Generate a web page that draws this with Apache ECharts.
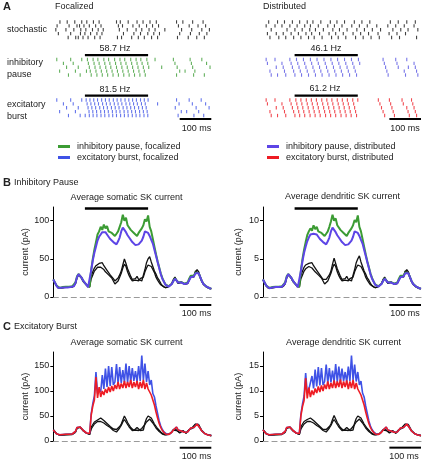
<!DOCTYPE html>
<html><head><meta charset="utf-8">
<script src="https://cdn.jsdelivr.net/npm/echarts@6/dist/echarts.min.js"></script>
<style>html,body{margin:0;padding:0;background:#fff}#c{width:422px;height:460px}</style>
</head><body><div id="c"></div><script>
// ---------- time base (ms) ----------
const timeMs = [0,5,10,15,20,25,30,35,40,45,50,55,60,65,70,75,80,85,90,95,100,105,110,115,120,125,130,135,140,145,150,155,160,165,170,175,180,185,190,195,200,205,210,215,220,225,230,235,240,245,250,255,260,265,270,275,280,285,290,295,300,305,310,315,320,325,330,335,340,345,350,355,360,365,370,375,380,385,390,395,400,405,410,415,420,425,430,435,440,445,450,455,460,465,470,475,480,485,490,495,500];
const stimWindow = [100, 300];
const scaleBarMs = [400, 500];
const rateLabels = ['58.7 Hz', '81.5 Hz', '46.1 Hz', '61.2 Hz'];

// ---------- B: inhibitory pause, somatic (pA) ----------
const greenBS = [23,19,15,12.5,12,12.5,13,13,13.5,13,
 13.5,13.5,14,14.5,19,27,30,28,25,21,
 19,16,13.5,13.5,36,50,62,72,82,86,
 92,88,95,90,93,86,88,84,85,80,
 83,86,92,98,108,100,104,94,96,88,
 90,84,86,80,84,86,90,94,102,99,
 107,92,86,76,66,56,47,39,31,25,
 20.5,16.5,15,14,14.5,17.5,21,24.5,24,19.5,
 17.5,19.5,21,17.5,16.5,19,24,28,30,28,
 32,34,31,26,21,17.5,15,13.5,12.5,11.5,
 11];
const purpleBS = [23,19,15,12,11.5,12,12.5,12.5,13,12.5,
 13,13,13.5,14,18,26,30,28,25,21,
 18.5,16,13,13,35,48,58,66,74,79,
 82,85,84,85,82,79,76,74,72,70,
 69,73,78,86,91,90,85,81,78,76,
 72,70,68,67,69,71,74,79,86,88,
 84,80,75,70,62,54,46,38,30,24,
 20,16,14.5,13.5,14,17,21,24,24,19,
 17,19,20,17,16,18,22,26,28,27,
 31,33,31,26,21,17,15,13.5,12.5,11.5,
 11];
const black1S = [23,19,15,12,11.5,12,12.5,12.5,13,12.5,
 13,13,13.5,14,18,26,30,28,25,21,
 18.5,16,13,13,28,33,38,41,42,44,
 46,45,41,39,35,32,29,27,24,21,
 23,25,29,34,42,50,44,37,32,27,
 23,21,24,27,23,21,21,22,36,45,
 50,53,46,40,34,30,25,22,18,15,
 13,12,13,14,15,17,22,25,21,18,
 17,20,21,17,16,18,23,27,25,26,
 33,36,33,27,21,17,15,13,12,11.5,
 11];
const black2S = [22,18,14.5,12,11.5,12,12,12.5,12.5,12.5,
 13,13,13,14,17,25,29,27,24,20,
 18,15.5,13,13,24,29,34,36,39,40,
 39,38,36,33,31,29,27,25,21,17,
 18,21,26,31,38,43,40,33,28,24,
 21,22,22,23,21,24,25,26,33,38,
 42,44,40,36,32,26,22,19,16,14,
 13,12.5,12.5,13.5,15,18,23,26,22,18,
 16,19,20,17,15.5,17.5,22,26,27,28,
 34,35,31,25,20,16.5,14.5,13,12,11,
 10.5];

// ---------- B: inhibitory pause, dendritic (pA) ----------
const greenBD = [2.3,1.9,1.5,1.3,1.2,1.25,1.3,1.3,1.35,1.3,
 1.35,1.35,1.4,1.45,1.9,2.7,3.0,2.8,2.5,2.1,
 1.9,1.6,1.35,1.35,3.5,5.0,6.2,7.2,8.1,8.6,
 9.0,8.7,9.4,8.9,9.2,8.6,8.8,8.4,8.5,8.0,
 8.3,8.6,9.2,9.9,10.8,10.0,10.3,9.4,9.6,8.8,
 9.0,8.4,8.6,8.0,8.4,8.6,9.0,9.4,10.1,9.8,
 10.7,9.2,8.6,7.6,6.6,5.6,4.7,3.9,3.1,2.5,
 2.05,1.65,1.5,1.4,1.45,1.75,2.1,2.45,2.4,1.95,
 1.75,1.95,2.1,1.75,1.65,1.9,2.4,2.8,3.0,2.8,
 3.2,3.4,3.1,2.6,2.1,1.75,1.5,1.35,1.25,1.15,
 1.1];
const purpleBD = [2.3,1.9,1.5,1.25,1.15,1.2,1.25,1.25,1.3,1.25,
 1.3,1.3,1.35,1.4,1.8,2.6,3.0,2.8,2.5,2.1,
 1.85,1.6,1.3,1.3,3.4,4.7,5.8,6.6,7.3,7.8,
 8.2,8.4,8.3,8.5,8.2,7.9,7.6,7.4,7.2,7.0,
 6.9,7.3,7.8,8.6,9.1,9.0,8.5,8.1,7.8,7.6,
 7.2,7.0,6.8,6.7,6.9,7.1,7.4,7.9,8.6,8.8,
 8.4,8.0,7.5,7.0,6.2,5.4,4.6,3.8,3.0,2.4,
 2.0,1.6,1.45,1.35,1.4,1.7,2.1,2.4,2.4,1.9,
 1.7,1.9,2.0,1.7,1.6,1.8,2.2,2.6,2.8,2.7,
 3.1,3.3,3.1,2.6,2.1,1.7,1.5,1.35,1.25,1.15,
 1.1];
const black1D = [2.3,1.9,1.5,1.2,1.15,1.2,1.25,1.25,1.3,1.25,
 1.3,1.3,1.35,1.4,1.8,2.6,3.0,2.8,2.5,2.1,
 1.85,1.6,1.3,1.3,2.8,3.4,3.9,4.2,4.3,4.4,
 4.6,4.5,4.1,3.9,3.5,3.2,2.9,2.6,2.3,2.1,
 2.3,2.5,2.9,3.4,4.3,5.1,4.4,3.7,3.2,2.7,
 2.3,2.1,2.4,2.7,2.3,2.1,2.1,2.2,3.6,4.5,
 5.0,5.4,4.6,4.0,3.4,3.0,2.5,2.2,1.8,1.5,
 1.3,1.2,1.3,1.4,1.5,1.7,2.2,2.5,2.1,1.8,
 1.7,2.0,2.1,1.7,1.6,1.8,2.3,2.7,2.5,2.6,
 3.3,3.6,3.3,2.7,2.1,1.7,1.5,1.3,1.2,1.15,
 1.1];
const black2D = [2.2,1.8,1.45,1.2,1.15,1.2,1.2,1.25,1.25,1.25,
 1.3,1.3,1.3,1.4,1.7,2.5,2.9,2.7,2.4,2.0,
 1.8,1.55,1.3,1.3,2.4,2.9,3.4,3.7,3.9,4.0,
 3.9,3.8,3.6,3.3,3.1,2.9,2.7,2.5,2.1,1.7,
 1.8,2.1,2.6,3.1,3.8,4.3,4.0,3.3,2.8,2.4,
 2.1,2.2,2.2,2.3,2.1,2.4,2.5,2.6,3.3,3.8,
 4.2,4.4,4.0,3.6,3.2,2.6,2.2,1.9,1.6,1.4,
 1.3,1.25,1.25,1.35,1.5,1.8,2.3,2.6,2.2,1.8,
 1.6,1.9,2.0,1.7,1.55,1.75,2.2,2.6,2.7,2.8,
 3.4,3.5,3.1,2.5,2.0,1.65,1.45,1.3,1.2,1.1,
 1.05];

// ---------- C: excitatory burst, somatic (pA) ----------
const blueCS = [22,18,14.5,13,12.5,13,13,13,13.5,13,
 13.5,13.5,14,15,19,27,30,28,25,21,
 19,16,14,15,55,75,90,138,95,104,
 98,132,104,145,108,150,110,148,112,118,
 154,115,148,116,142,118,155,117,150,118,
 146,120,140,118,150,120,171,122,155,118,
 140,112,122,95,88,70,55,40,30,23,
 18,14.5,13,13,14.5,18,22,25,28,22,
 18,20,21,17.5,16,18,22,26,27,27,
 31,34,31,25,20,16.5,14.5,13,12,11.5,
 11];
const redCS = [22,18,14.5,13,12.5,13,13,13,13.5,13,
 13.5,13.5,14,15,19,27,30,28,25,21,
 19,16,14,15,52,70,82,128,86,108,
 88,100,92,104,96,108,98,110,100,112,
 104,118,104,115,106,120,106,118,108,122,
 106,118,108,120,104,118,106,122,104,116,
 104,100,92,82,72,58,46,35,27,21,
 17,14,13,13,14,17.5,22,25,28,22,
 18,20,21,17.5,16,18,22,26,27,27,
 31,34,31,25,20,16.5,14.5,13,12,11.5,
 11];
// ---------- C: excitatory burst, dendritic (pA) ----------
const blueCD = [2.2,1.8,1.45,1.3,1.25,1.3,1.3,1.3,1.35,1.3,
 1.35,1.35,1.4,1.5,1.9,2.7,3.0,2.8,2.5,2.1,
 1.9,1.6,1.4,1.5,5.4,7.4,9.0,13.6,9.6,10.3,
 9.9,13.0,10.5,14.3,10.9,14.8,11.1,14.6,11.2,11.9,
 15.3,11.6,14.6,11.7,14.1,11.8,15.4,11.8,14.9,11.9,
 14.5,12.0,13.8,11.8,14.9,12.0,17.1,12.2,15.3,11.9,
 13.8,11.2,12.0,9.6,8.8,7.0,5.5,4.0,3.0,2.3,
 1.8,1.45,1.3,1.3,1.45,1.8,2.2,2.5,2.8,2.2,
 1.8,2.0,2.1,1.75,1.6,1.8,2.2,2.6,2.7,2.7,
 3.1,3.4,3.1,2.5,2.0,1.65,1.45,1.3,1.2,1.15,
 1.1];
const redCD = [2.2,1.8,1.45,1.3,1.25,1.3,1.3,1.3,1.35,1.3,
 1.35,1.35,1.4,1.5,1.9,2.7,3.0,2.8,2.5,2.1,
 1.9,1.6,1.4,1.5,5.1,6.9,8.1,12.6,8.5,10.7,
 8.8,10.1,9.2,10.5,9.6,10.9,9.8,11.1,10.0,11.3,
 10.4,11.9,10.4,11.6,10.6,12.1,10.6,11.9,10.8,12.3,
 10.6,11.9,10.8,12.1,10.4,11.9,10.6,12.2,10.4,11.6,
 10.4,10.0,9.2,8.2,7.2,5.8,4.6,3.5,2.7,2.1,
 1.7,1.4,1.3,1.3,1.4,1.75,2.2,2.5,2.8,2.2,
 1.8,2.0,2.1,1.75,1.6,1.8,2.2,2.6,2.7,2.7,
 3.1,3.4,3.1,2.5,2.0,1.65,1.45,1.3,1.2,1.15,
 1.1];

// ---------- A: spike rasters (spike times in ms, one list per trial) ----------
const stochFocal = [
 [21,44,68,90,106,127,145,200,212,237,265,284,306,326,390,410,441,474],
 [12,50,75,83,97,114,134,151,206,219,252,272,295,314,333,396,430,458,482],
 [8,40,65,87,103,124,142,158,209,234,262,280,303,322,353,406,438,470,494],
 [16,55,86,100,118,138,154,222,255,276,299,318,336,400,434,462,486],
 [47,71,79,94,110,131,148,203,216,248,269,288,311,330,393,427,454,478]];
const pauseFocal = [
 [11,55,90,108,126,141,160,175,194,211,226,245,262,277,296,322,380,433,470],
 [32,63,111,129,145,163,179,197,214,230,248,265,281,299,385,437,485],
 [42,79,114,132,148,166,182,200,217,234,251,268,285,302,343,392,441,496],
 [20,70,105,117,135,152,169,186,203,220,237,254,271,288,400,417,448],
 [48,85,120,138,155,172,189,206,223,240,257,274,291,390,444,478]];
const burstFocal = [
 [11,55,90,104,116,128,140,153,165,177,190,202,214,227,239,251,263,276,288,300,390,430,468],
 [32,63,107,119,131,143,156,168,180,193,205,217,230,242,254,266,279,291,330,398,440,482],
 [42,79,110,122,134,147,159,171,184,196,208,221,233,245,257,270,282,294,386,452,493],
 [20,70,113,125,137,150,162,174,187,199,211,224,236,248,260,273,285,297,405,422,460],
 [48,85,101,114,126,138,151,163,176,188,200,213,225,237,250,262,274,287,299,395,445,476]];
const stochDistr = [
 [18,46,68,93,116,140,158,183,213,234,258,289,313,338,403,428,455,482],
 [10,38,60,85,108,132,150,175,205,226,250,281,305,330,360,395,420,447,478],
 [26,76,101,124,148,166,191,221,242,266,297,321,346,372,411,436,459,490],
 [14,42,64,89,112,136,154,179,209,230,254,285,309,334,364,399,424,451],
 [22,50,72,97,120,144,162,187,217,238,262,293,317,342,368,407,432,486]];
const pauseDistr = [
 [10,38,85,106,128,150,171,193,215,236,258,280,302,380,420,455],
 [14,60,89,110,132,154,175,197,219,240,262,284,306,384,424,478],
 [42,64,93,114,136,158,179,201,223,244,266,288,388,428,460,482],
 [22,68,97,118,140,162,183,205,227,248,270,292,392,447,486],
 [26,46,72,101,122,144,166,187,209,231,252,274,296,396,451,490]];
const burstDistr = [
 [10,38,85,104,120,137,153,169,186,202,218,235,251,267,284,300,365,400,440,470],
 [14,60,89,107,123,140,156,172,189,205,221,238,254,270,287,370,404,444,474],
 [42,64,93,110,126,143,159,175,192,208,224,241,257,273,290,375,408,455,478],
 [22,68,97,113,129,146,162,178,195,211,227,244,260,276,293,380,412,459,482],
 [26,46,72,101,116,132,149,165,181,198,214,230,247,263,279,296,385,416,463,486]];

// ---------- styling ----------
const FONT = '"Liberation Sans", Arial, Helvetica, sans-serif';
const C_GREEN = '#3c9c34', C_PURPLE = '#5d45e6', C_BLUE = '#3f52e6', C_RED = '#ee1c24', C_BLACK = '#111';
const N_IPF = 'inhibitory pause, focalized', N_EBF = 'excitatory burst, focalized';
const N_IPD = 'inhibitory pause, distributed', N_EBD = 'excitatory burst, distributed';

const pair = v => timeMs.map((t, i) => [t, v[i]]);
function rasterData(rows){ const d=[]; rows.forEach((row,r)=>row.forEach(t=>d.push([t, rows.length-1-r+0.5]))); return d; }

const grids = [], xAxes = [], yAxes = [], series = [];
const LX = 53.3, RX = 263, W = 158;
const rasterTops = [20, 57.5, 98];
[[LX,[stochFocal,pauseFocal,burstFocal],['#111',C_GREEN,C_BLUE]],[RX,[stochDistr,pauseDistr,burstDistr],['#111','#5552e2',C_RED]]].forEach(([lx, sets, cols]) => {
  sets.forEach((rows, k) => {
    const gi = grids.length;
    grids.push({left: lx, top: rasterTops[k], width: W, height: 19.5});
    xAxes.push({gridIndex: gi, type:'value', min:0, max:500, show:false});
    yAxes.push({gridIndex: gi, type:'value', min:0, max:5, show:false});
    series.push({type:'scatter', xAxisIndex:gi, yAxisIndex:gi, data: rasterData(rows), symbol:'rect', symbolSize:[1.1,3.4], itemStyle:{color: cols[k]}, silent:true, animation:false});
    if (k > 0) series.push({type:'line', xAxisIndex:gi, yAxisIndex:gi, clip:false, symbol:'none', silent:true, animation:false,
      data:[[stimWindow[0],5.6],[stimWindow[1],5.6]], lineStyle:{color:'#000', width:2.4}});
    if (k === 2) series.push({type:'line', xAxisIndex:gi, yAxisIndex:gi, clip:false, symbol:'none', silent:true, animation:false,
      data:[[scaleBarMs[0],-0.4],[scaleBarMs[1],-0.4]], lineStyle:{color:'#000', width:2}});
  });
});

function tracePlot(lx, top, h, max, interval, ticks, lines, stimY, scaleY){
  const gi = grids.length;
  grids.push({left: lx, top: top, width: W, height: h});
  xAxes.push({gridIndex:gi, type:'value', min:0, max:500, splitLine:{show:false}, axisTick:{show:false}, axisLabel:{show:false},
    axisLine:{show:true, onZero:true, lineStyle:{color:'#9a9a9a', type:[5,4], width:1.2}}});
  yAxes.push({gridIndex:gi, type:'value', min:0, max:max, interval:interval, splitLine:{show:false},
    axisLine:{show:true, lineStyle:{color:'#000', width:1}},
    axisTick:{show:true, length:3, lineStyle:{color:'#000'}, customValues: ticks},
    axisLabel:{fontSize:9, color:'#222', margin:4, fontFamily:FONT, customValues: ticks},
    name:'current (pA)', nameLocation:'middle', nameGap:20, nameTextStyle:{fontSize:9, color:'#222', fontFamily:FONT}});
  lines.forEach(([name, vals, color, width]) => series.push({type:'line', name:name, xAxisIndex:gi, yAxisIndex:gi, data:pair(vals), symbol:'none',
    color: color, itemStyle:{color:color}, lineStyle:{color:color, width:width}, silent:true, animation:false}));
  if (stimY !== null) series.push({type:'line', xAxisIndex:gi, yAxisIndex:gi, clip:false, symbol:'none', silent:true, animation:false,
    data:[[stimWindow[0],stimY],[stimWindow[1],stimY]], lineStyle:{color:'#000', width:2.4}});
  series.push({type:'line', xAxisIndex:gi, yAxisIndex:gi, clip:false, symbol:'none', silent:true, animation:false,
    data:[[scaleBarMs[0],scaleY],[scaleBarMs[1],scaleY]], lineStyle:{color:'#000', width:2}});
}
tracePlot(LX, 207, 90, 118, 50, [0,50,100], [['stoch1',black1S,C_BLACK,1.3],['stoch2',black2S,C_BLACK,1.3],[N_IPF,greenBS,C_GREEN,2],[N_IPD,purpleBS,C_PURPLE,2]], 116, -10.5);
tracePlot(RX, 207, 90, 11.8, 5, [0,5,10], [['stoch1',black1D,C_BLACK,1.3],['stoch2',black2D,C_BLACK,1.3],[N_IPF,greenBD,C_GREEN,2],[N_IPD,purpleBD,C_PURPLE,2]], 11.6, -1.05);
tracePlot(LX, 352, 89, 178, 50, [0,50,100,150], [['stoch1',black1S,C_BLACK,1.3],['stoch2',black2S,C_BLACK,1.3],[N_EBF,blueCS,C_BLUE,1.6],[N_EBD,redCS,C_RED,1.6]], null, -13.3);
tracePlot(RX, 352, 89, 17.8, 5, [0,5,10,15], [['stoch1',black1D,C_BLACK,1.3],['stoch2',black2D,C_BLACK,1.3],[N_EBF,blueCD,C_BLUE,1.6],[N_EBD,redCD,C_RED,1.6]], null, -1.33);

function txt(x, y, s, opt){ opt = opt || {};
  return {type:'text', x:x, y:y, silent:true, style:{text:s, fill:'#222', font:(opt.bold?'bold ':'')+(opt.size||9)+'px '+FONT,
    textAlign:opt.align||'left', textVerticalAlign:'middle', align:opt.align||'left', verticalAlign:'middle'}}; }
const texts = [
  txt(3,7,'A',{bold:true,size:11}), txt(55,7,'Focalized'), txt(263,7,'Distributed'),
  txt(7,30,'stochastic'), txt(7,63,'inhibitory'), txt(7,75,'pause'), txt(7,105,'excitatory'), txt(7,116.5,'burst'),
  txt(115,48.5,rateLabels[0],{align:'center'}), txt(115,89.5,rateLabels[1],{align:'center'}),
  txt(326,48.5,rateLabels[2],{align:'center'}), txt(325,89,rateLabels[3],{align:'center'}),
  txt(196.5,128.5,'100 ms',{align:'center'}), txt(405,128.5,'100 ms',{align:'center'}),
  txt(3,183,'B',{bold:true,size:11}), txt(14,183,'Inhibitory Pause'),
  txt(126.5,197.5,'Average somatic SK current',{align:'center'}), txt(342.5,197,'Average dendritic SK current',{align:'center'}),
  txt(196.5,313.5,'100 ms',{align:'center'}), txt(405,313.5,'100 ms',{align:'center'}),
  txt(3,327,'C',{bold:true,size:11}), txt(14,327,'Excitatory Burst'),
  txt(126.5,343,'Average somatic SK current',{align:'center'}), txt(343.5,343,'Average dendritic SK current',{align:'center'}),
  txt(196.5,456.5,'100 ms',{align:'center'}), txt(404,456.5,'100 ms',{align:'center'})
];

const legendBase = {orient:'vertical', top:137, itemWidth:12, itemHeight:3, itemGap:2, icon:'rect', selectedMode:false,
  textStyle:{fontSize:9, color:'#222', fontFamily:FONT, padding:[0,0,0,2]}};
const chart = echarts.init(document.getElementById('c'), null, {renderer:'canvas'});
chart.setOption({
  animation:false, backgroundColor:'#fff',
  grid: grids, xAxis: xAxes, yAxis: yAxes, series: series,
  legend: [Object.assign({}, legendBase, {left:53, data:[N_IPF, N_EBF]}), Object.assign({}, legendBase, {left:262, data:[N_IPD, N_EBD]})],
  graphic: texts
});
</script></body></html>
